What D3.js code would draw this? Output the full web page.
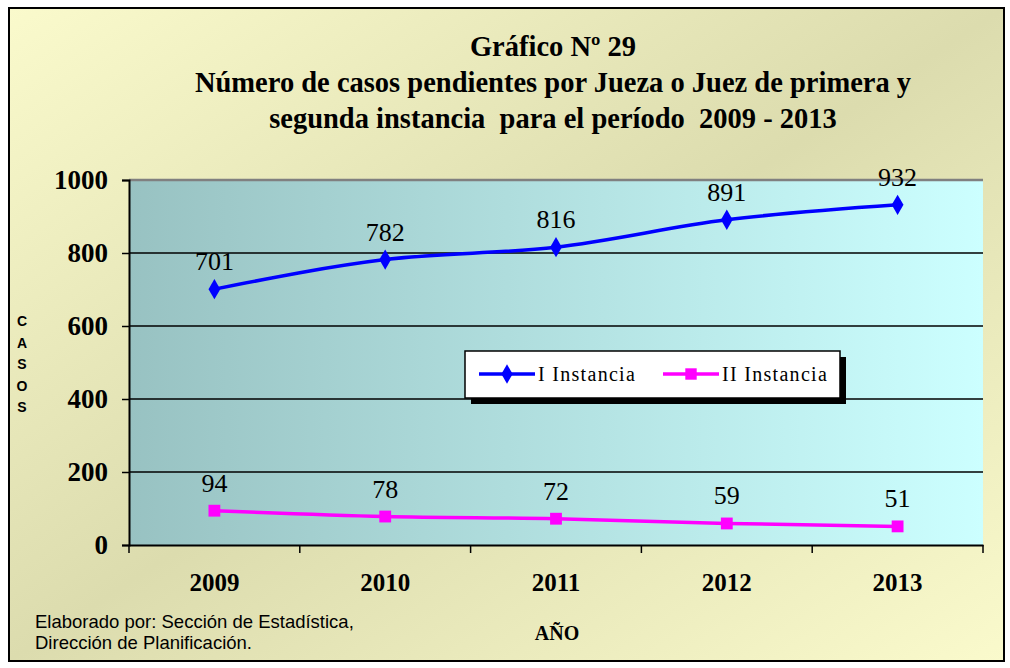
<!DOCTYPE html>
<html>
<head>
<meta charset="utf-8">
<script src="https://cdn.jsdelivr.net/npm/d3@7"></script>
<style>
  body { margin: 0; background: #fff; }
  svg { display: block; }
</style>
</head>
<body>
<script>
// Datos del gráfico
const years = ["2009", "2010", "2011", "2012", "2013"];
const primera = [701, 782, 816, 891, 932];
const segunda = [94, 78, 72, 59, 51];
const yTicks = [0, 200, 400, 600, 800, 1000];
const seriesNames = ["I Instancia", "II Instancia"];

const width = 1010, height = 668;
const plot = { left: 129, right: 983, top: 180, bottom: 545 };
const serif = "Liberation Serif, Times New Roman, serif";
const sans = "Liberation Sans, Arial, sans-serif";

const svg = d3.select("body").append("svg")
    .attr("width", width)
    .attr("height", height);

const defs = svg.append("defs");

// Fondo general (amarillo / caqui en diagonal)
const bg = defs.append("linearGradient").attr("id", "bgGrad")
    .attr("x1", 0).attr("y1", 0).attr("x2", 1).attr("y2", 1);
bg.append("stop").attr("offset", "0%").attr("stop-color", "#fafacc");
bg.append("stop").attr("offset", "50%").attr("stop-color", "#dcdcae");
bg.append("stop").attr("offset", "100%").attr("stop-color", "#fafacc");

// Fondo del área de trazado (verde azulado a celeste)
const pg = defs.append("linearGradient").attr("id", "plotGrad")
    .attr("x1", 0).attr("y1", 0).attr("x2", 1).attr("y2", 0);
pg.append("stop").attr("offset", "0%").attr("stop-color", "#98c2c2");
pg.append("stop").attr("offset", "100%").attr("stop-color", "#ccffff");

svg.append("rect")
    .attr("x", 9).attr("y", 8)
    .attr("width", 995).attr("height", 653)
    .attr("fill", "url(#bgGrad)")
    .attr("stroke", "#000")
    .attr("stroke-width", 2);

// Escalas
const x = d3.scaleBand().domain(years).range([plot.left, plot.right]);
const y = d3.scaleLinear().domain([0, 1000]).range([plot.bottom, plot.top]);
const cx = d => x(d) + x.bandwidth() / 2;

svg.append("rect")
    .attr("x", plot.left).attr("y", plot.top)
    .attr("width", plot.right - plot.left).attr("height", plot.bottom - plot.top)
    .attr("fill", "url(#plotGrad)");

// Líneas de cuadrícula
svg.append("g").selectAll("line")
    .data(yTicks.filter(t => t > 0))
    .join("line")
    .attr("x1", plot.left).attr("x2", plot.right)
    .attr("y1", d => y(d)).attr("y2", d => y(d))
    .attr("stroke", d => d === 1000 ? "#808080" : "#000")
    .attr("stroke-width", d => d === 1000 ? 2.5 : 1.5);

// Eje Y
const yAxis = svg.append("g")
    .attr("transform", `translate(${plot.left},0)`)
    .call(d3.axisLeft(y).tickValues(yTicks).tickFormat(d3.format("d")).tickSize(7).tickPadding(14));
yAxis.select(".domain").attr("stroke", "#000").attr("stroke-width", 2);
yAxis.selectAll(".tick line").attr("stroke", "#000").attr("stroke-width", 1.5);
yAxis.selectAll("text")
    .attr("font-family", serif)
    .attr("font-weight", "bold")
    .attr("font-size", 27)
    .attr("fill", "#000");

// Eje X
const xAxis = svg.append("g")
    .attr("transform", `translate(0,${plot.bottom})`)
    .call(d3.axisBottom(x).tickSize(0).tickPadding(28));
xAxis.select(".domain").attr("stroke", "#000").attr("stroke-width", 2);
xAxis.selectAll("text")
    .attr("font-family", serif)
    .attr("font-weight", "bold")
    .attr("font-size", 25)
    .attr("fill", "#000");
// marcas entre categorías
svg.append("g").selectAll("line")
    .data(years.concat(["end"]))
    .join("line")
    .attr("x1", (d, i) => plot.left + i * x.bandwidth())
    .attr("x2", (d, i) => plot.left + i * x.bandwidth())
    .attr("y1", plot.bottom).attr("y2", plot.bottom + 8)
    .attr("stroke", "#000").attr("stroke-width", 1.5);

// Líneas de series
const line = d3.line()
    .x((d, i) => cx(years[i]))
    .y(d => y(d))
    .curve(d3.curveMonotoneX);

const series = [
    { name: seriesNames[0], values: primera, color: "#0000ff", marker: d3.symbolDiamond },
    { name: seriesNames[1], values: segunda, color: "#ff00ff", marker: d3.symbolSquare }
];

series.forEach(s => {
    svg.append("path")
        .datum(s.values)
        .attr("d", line)
        .attr("fill", "none")
        .attr("stroke", s.color)
        .attr("stroke-width", 3.5);

    svg.append("g").selectAll("path")
        .data(s.values)
        .join("path")
        .attr("transform", (d, i) => `translate(${cx(years[i])},${y(d)})`)
        .attr("d", d3.symbol().type(s.marker).size(s.marker === d3.symbolSquare ? 140 : 120))
        .attr("fill", s.color);

    svg.append("g").selectAll("text")
        .data(s.values)
        .join("text")
        .attr("x", (d, i) => cx(years[i]))
        .attr("y", d => y(d) - 19)
        .attr("text-anchor", "middle")
        .attr("font-family", serif)
        .attr("font-size", 26)
        .attr("fill", "#000")
        .text(d => d);
});

// Leyenda
const legend = svg.append("g").attr("transform", "translate(465,351)");
legend.append("rect")
    .attr("x", 6).attr("y", 6).attr("width", 375).attr("height", 47)
    .attr("fill", "#000");
legend.append("rect")
    .attr("x", 0).attr("y", 0).attr("width", 375).attr("height", 47)
    .attr("fill", "#fff").attr("stroke", "#000").attr("stroke-width", 1.5);
const legendX = [14, 198];
series.forEach((s, i) => {
    const g = legend.append("g").attr("transform", `translate(${legendX[i]},23)`);
    g.append("line").attr("x1", 0).attr("x2", 56).attr("stroke", s.color).attr("stroke-width", 3.5);
    g.append("path")
        .attr("transform", "translate(28,0)")
        .attr("d", d3.symbol().type(s.marker).size(s.marker === d3.symbolSquare ? 130 : 110))
        .attr("fill", s.color);
    g.append("text")
        .attr("x", 59).attr("y", 7)
        .attr("font-family", serif)
        .attr("font-size", 20)
        .attr("letter-spacing", 1.3)
        .attr("fill", "#000")
        .text(s.name);
});

// Títulos
const titleLines = [
    "Gráfico Nº 29",
    "Número de casos pendientes por Jueza o Juez de primera y",
    "segunda instancia  para el período  2009 - 2013"
];
svg.append("g").selectAll("text")
    .data(titleLines)
    .join("text")
    .attr("x", 553)
    .attr("y", (d, i) => 56 + i * 36)
    .attr("text-anchor", "middle")
    .attr("font-family", serif)
    .attr("font-weight", "bold")
    .attr("font-size", 28.5)
    .attr("fill", "#000")
    .style("white-space", "pre")
    .text(d => d);

// Título eje Y (letras verticales)
svg.append("g").selectAll("text")
    .data("CASOS".split(""))
    .join("text")
    .attr("x", 22)
    .attr("y", (d, i) => 326 + i * 21.5)
    .attr("text-anchor", "middle")
    .attr("font-family", sans)
    .attr("font-weight", "bold")
    .attr("font-size", 14)
    .attr("fill", "#000")
    .text(d => d);

// Título eje X
svg.append("text")
    .attr("x", 557).attr("y", 640)
    .attr("text-anchor", "middle")
    .attr("font-family", serif)
    .attr("font-weight", "bold")
    .attr("font-size", 20)
    .attr("fill", "#000")
    .text("AÑO");

// Nota de fuente
const fuente = ["Elaborado por: Sección de Estadística,", "Dirección de Planificación."];
svg.append("g").selectAll("text")
    .data(fuente)
    .join("text")
    .attr("x", 35)
    .attr("y", (d, i) => 628 + i * 21)
    .attr("font-family", sans)
    .attr("font-size", 18.5)
    .attr("fill", "#000")
    .text(d => d);
</script>
</body>
</html>
